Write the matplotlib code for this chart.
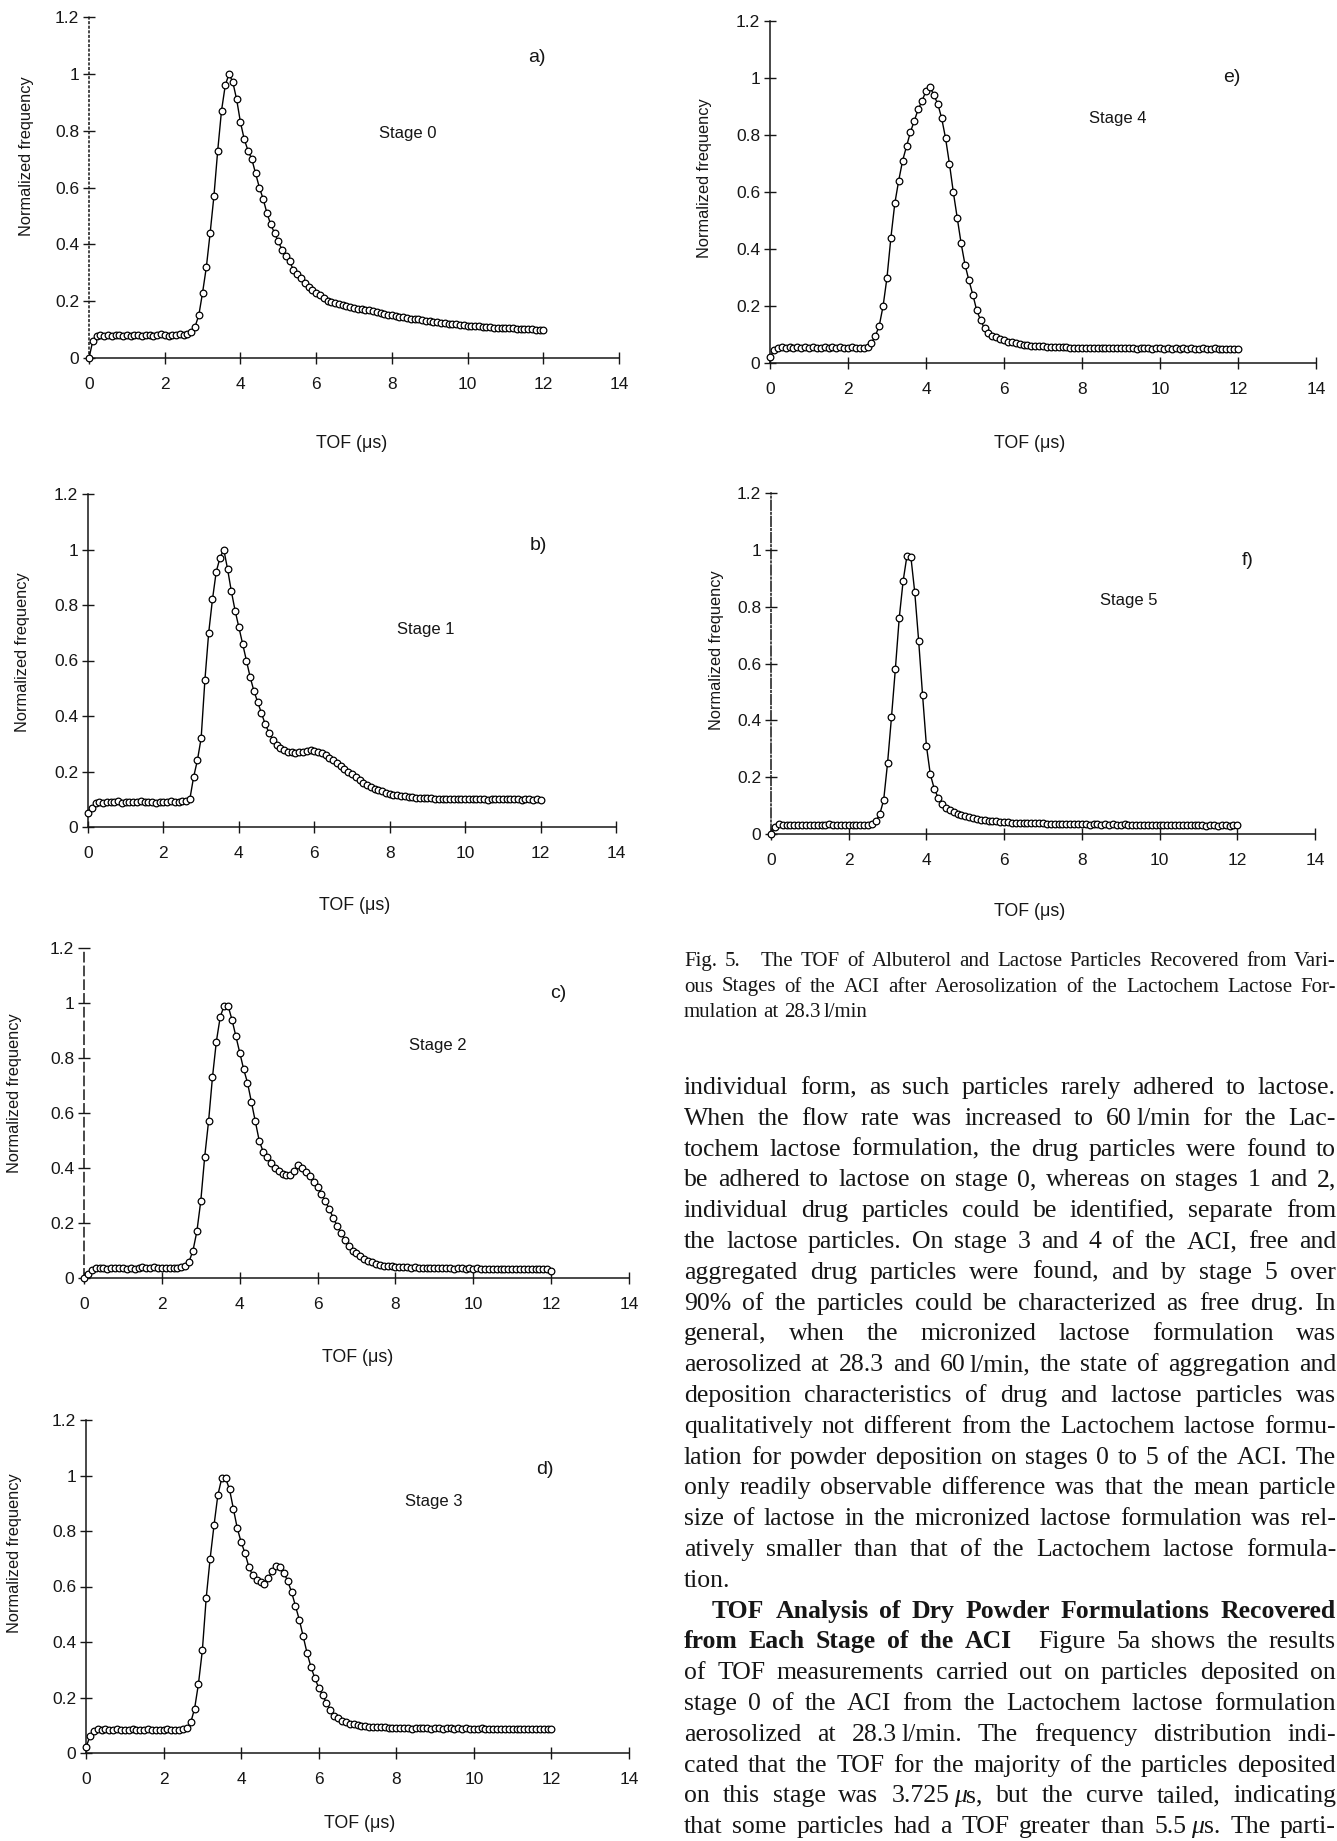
import numpy as np
import matplotlib
matplotlib.use("Agg")
import matplotlib.pyplot as plt

plt.rcParams['font.family'] = ['Liberation Sans', 'DejaVu Sans']

# Данные: нормированная частота по времени пролёта (шаг 0.1 мкс, 0..12)
tof = np.round(np.arange(0, 12.05, 0.1), 1)

stage0 = [0.0, 0.06, 0.078, 0.080, 0.079, 0.081, 0.078, 0.080, 0.082, 0.079,
          0.080, 0.078, 0.081, 0.080, 0.079, 0.082, 0.080, 0.078, 0.081, 0.083,
          0.080, 0.079, 0.082, 0.081, 0.083, 0.082, 0.084, 0.090, 0.11, 0.15,
          0.23, 0.32, 0.44, 0.57, 0.73, 0.87, 0.96, 1.0, 0.97, 0.91,
          0.83, 0.77, 0.73, 0.70, 0.65, 0.60, 0.56, 0.51, 0.47, 0.44,
          0.41, 0.38, 0.36, 0.34, 0.31, 0.295, 0.28, 0.265, 0.25, 0.24,
          0.23, 0.22, 0.21, 0.20, 0.197, 0.193, 0.19, 0.186, 0.182, 0.178,
          0.175, 0.174, 0.172, 0.170, 0.168, 0.165, 0.162, 0.158, 0.155, 0.153,
          0.150, 0.148, 0.146, 0.144, 0.141, 0.139, 0.137, 0.136, 0.134, 0.131,
          0.129, 0.127, 0.125, 0.124, 0.122, 0.121, 0.120, 0.118, 0.117, 0.116,
          0.114, 0.113, 0.112, 0.111, 0.110, 0.109, 0.108, 0.107, 0.106, 0.106,
          0.105, 0.104, 0.104, 0.103, 0.102, 0.102, 0.101, 0.101, 0.100, 0.100,
          0.100]

stage1 = [0.05, 0.07, 0.085, 0.09, 0.088, 0.091, 0.089, 0.09, 0.092, 0.088,
          0.09, 0.091, 0.089, 0.09, 0.092, 0.089, 0.09, 0.091, 0.088, 0.09,
          0.091, 0.089, 0.092, 0.09, 0.091, 0.093, 0.095, 0.10, 0.18, 0.24,
          0.32, 0.53, 0.70, 0.82, 0.92, 0.97, 1.0, 0.93, 0.85, 0.78,
          0.72, 0.66, 0.60, 0.54, 0.49, 0.45, 0.41, 0.37, 0.34, 0.315,
          0.295, 0.285, 0.278, 0.272, 0.27, 0.268, 0.27, 0.272, 0.275, 0.276,
          0.274, 0.27, 0.266, 0.26, 0.25, 0.24, 0.23, 0.22, 0.21, 0.20,
          0.19, 0.18, 0.17, 0.16, 0.15, 0.145, 0.138, 0.133, 0.128, 0.124,
          0.12, 0.117, 0.114, 0.112, 0.11, 0.108, 0.107, 0.106, 0.105, 0.104,
          0.103, 0.103, 0.102, 0.102, 0.101, 0.102, 0.101, 0.1, 0.101, 0.1,
          0.101, 0.1, 0.102, 0.1, 0.101, 0.1, 0.099, 0.1, 0.101, 0.1,
          0.1, 0.101, 0.1, 0.102, 0.1, 0.099, 0.1, 0.1, 0.099, 0.1,
          0.098]

stage2 = [0.0, 0.015, 0.03, 0.036, 0.035, 0.037, 0.034, 0.036, 0.038, 0.035,
          0.036, 0.034, 0.035, 0.033, 0.036, 0.04, 0.038, 0.037, 0.039, 0.036,
          0.035, 0.037, 0.036, 0.038, 0.037, 0.04, 0.042, 0.06, 0.10, 0.17,
          0.28, 0.44, 0.57, 0.73, 0.86, 0.95, 0.99, 0.99, 0.94, 0.88,
          0.82, 0.76, 0.71, 0.64, 0.57, 0.50, 0.46, 0.44, 0.42, 0.40,
          0.39, 0.38, 0.375, 0.375, 0.39, 0.41, 0.40, 0.385, 0.37, 0.35,
          0.33, 0.305, 0.28, 0.25, 0.22, 0.19, 0.165, 0.14, 0.118, 0.10,
          0.09, 0.08, 0.07, 0.063, 0.057, 0.052, 0.048, 0.045, 0.043, 0.042,
          0.04, 0.04, 0.039, 0.04, 0.038, 0.039, 0.037, 0.038, 0.037, 0.036,
          0.037, 0.036, 0.035, 0.036, 0.035, 0.034, 0.035, 0.036, 0.034, 0.035,
          0.034, 0.035, 0.033, 0.034, 0.033, 0.034, 0.032, 0.033, 0.034, 0.032,
          0.033, 0.032, 0.034, 0.031, 0.033, 0.032, 0.031, 0.033, 0.032, 0.031,
          0.025]

stage3 = [0.02, 0.06, 0.08, 0.085, 0.083, 0.086, 0.082, 0.084, 0.085, 0.083,
          0.084, 0.082, 0.085, 0.083, 0.084, 0.082, 0.085, 0.083, 0.084, 0.082,
          0.083, 0.085, 0.082, 0.084, 0.083, 0.086, 0.09, 0.11, 0.16, 0.25,
          0.37, 0.56, 0.70, 0.82, 0.93, 0.99, 0.99, 0.95, 0.88, 0.81,
          0.76, 0.72, 0.67, 0.64, 0.625, 0.615, 0.61, 0.63, 0.655, 0.675,
          0.67, 0.65, 0.62, 0.58, 0.53, 0.48, 0.42, 0.36, 0.31, 0.27,
          0.235, 0.21, 0.18, 0.155, 0.135, 0.125, 0.115, 0.11, 0.106, 0.103,
          0.1, 0.098, 0.096, 0.095, 0.094, 0.093, 0.092, 0.092, 0.091, 0.091,
          0.09, 0.089, 0.091, 0.09, 0.088, 0.09, 0.091, 0.089, 0.09, 0.088,
          0.089, 0.09, 0.088, 0.09, 0.089, 0.087, 0.089, 0.088, 0.09, 0.087,
          0.088, 0.087, 0.089, 0.086, 0.088, 0.087, 0.086, 0.088, 0.087, 0.086,
          0.087, 0.086, 0.088, 0.086, 0.087, 0.085, 0.087, 0.086, 0.088, 0.086,
          0.087]

stage4 = [0.02, 0.045, 0.052, 0.055, 0.054, 0.056, 0.053, 0.055, 0.054, 0.056,
          0.053, 0.055, 0.054, 0.052, 0.055, 0.054, 0.056, 0.053, 0.055, 0.054,
          0.053, 0.055, 0.052, 0.054, 0.053, 0.056, 0.07, 0.095, 0.13, 0.20,
          0.30, 0.44, 0.56, 0.64, 0.71, 0.76, 0.81, 0.85, 0.89, 0.92,
          0.955, 0.97, 0.94, 0.91, 0.86, 0.79, 0.70, 0.60, 0.51, 0.42,
          0.345, 0.29, 0.24, 0.185, 0.15, 0.122, 0.105, 0.096, 0.09, 0.084,
          0.079, 0.075, 0.072, 0.069, 0.066, 0.064, 0.062, 0.061, 0.06, 0.059,
          0.058, 0.057, 0.057, 0.056, 0.056, 0.055, 0.055, 0.054, 0.054, 0.054,
          0.053, 0.054, 0.052, 0.053, 0.054, 0.052, 0.053, 0.051, 0.053, 0.052,
          0.052, 0.051, 0.053, 0.052, 0.05, 0.052, 0.051, 0.052, 0.05, 0.051,
          0.051, 0.05, 0.052, 0.05, 0.051, 0.049, 0.051, 0.05, 0.052, 0.05,
          0.05, 0.051, 0.049, 0.05, 0.051, 0.049, 0.05, 0.048, 0.05, 0.049,
          0.048]

stage5 = [0.0, 0.025, 0.035, 0.032, 0.033, 0.031, 0.032, 0.033, 0.031, 0.032,
          0.033, 0.032, 0.031, 0.033, 0.032, 0.034, 0.031, 0.032, 0.033, 0.031,
          0.032, 0.033, 0.031, 0.032, 0.033, 0.032, 0.036, 0.045, 0.07, 0.12,
          0.25, 0.41, 0.58, 0.76, 0.89, 0.98, 0.975, 0.85, 0.68, 0.49,
          0.31, 0.21, 0.16, 0.128, 0.105, 0.093, 0.085, 0.078, 0.072, 0.067,
          0.063, 0.06, 0.056, 0.053, 0.051, 0.049, 0.047, 0.045, 0.044, 0.043,
          0.042, 0.041, 0.04, 0.04, 0.039, 0.039, 0.038, 0.038, 0.038, 0.037,
          0.037, 0.036, 0.036, 0.035, 0.036, 0.035, 0.035, 0.034, 0.035, 0.034,
          0.035, 0.034, 0.033, 0.035, 0.034, 0.033, 0.034, 0.033, 0.034, 0.032,
          0.033, 0.034, 0.032, 0.033, 0.032, 0.033, 0.031, 0.033, 0.032, 0.031,
          0.032, 0.031, 0.033, 0.032, 0.03, 0.032, 0.031, 0.03, 0.032, 0.031,
          0.03, 0.031, 0.029, 0.031, 0.03, 0.029, 0.031, 0.03, 0.029, 0.03,
          0.03]

x_ticks = [0, 2, 4, 6, 8, 10, 12, 14]
x_tick_labels = ['0', '2', '4', '6', '8', '10', '12', '14']
y_ticks = [0, 0.2, 0.4, 0.6, 0.8, 1.0, 1.2]
y_tick_labels = ['0', '0.2', '0.4', '0.6', '0.8', '1', '1.2']

letters = ['a)', 'b)', 'c)', 'd)', 'e)', 'f)']
stages = ['Stage 0', 'Stage 1', 'Stage 2', 'Stage 3', 'Stage 4', 'Stage 5']
series = [stage0, stage1, stage2, stage3, stage4, stage5]

caption_lines = [
    "Fig. 5. ~ The TOF of Albuterol and Lactose Particles Recovered from Vari-",
    "ous Stages of the ACI after Aerosolization of the Lactochem Lactose For-",
    "mulation at 28.3_l/min",
]

body_lines = [
    "individual form, as such particles rarely adhered to lactose.",
    "When the flow rate was increased to 60_l/min for the Lac-",
    "tochem lactose formulation, the drug particles were found to",
    "be adhered to lactose on stage 0, whereas on stages 1 and 2,",
    "individual drug particles could be identified, separate from",
    "the lactose particles. On stage 3 and 4 of the ACI, free and",
    "aggregated drug particles were found, and by stage 5 over",
    "90% of the particles could be characterized as free drug. In",
    "general, when the micronized lactose formulation was",
    "aerosolized at 28.3 and 60_l/min, the state of aggregation and",
    "deposition characteristics of drug and lactose particles was",
    "qualitatively not different from the Lactochem lactose formu-",
    "lation for powder deposition on stages 0 to 5 of the ACI. The",
    "only readily observable difference was that the mean particle",
    "size of lactose in the micronized lactose formulation was rel-",
    "atively smaller than that of the Lactochem lactose formula-",
    "tion.",
    "*TOF *Analysis *of *Dry *Powder *Formulations *Recovered",
    "*from *Each *Stage *of *the *ACI ~ Figure 5a shows the results",
    "of TOF measurements carried out on particles deposited on",
    "stage 0 of the ACI from the Lactochem lactose formulation",
    "aerosolized at 28.3_l/min. The frequency distribution indi-",
    "cated that the TOF for the majority of the particles deposited",
    "on this stage was 3.725_μs, but the curve tailed, indicating",
    "that some particles had a TOF greater than 5.5_μs. The parti-",
]

# Размещение (в пикселях страницы)
W, H = 1337, 1841
boxes = [(89, 619, 17, 358), (88, 616, 494, 827), (84, 629, 948, 1278),
         (86, 629, 1420, 1753), (770, 1316, 21, 363), (771, 1315, 493, 834)]
letter_pos = [(11.83, 1.056), (11.93, 1.016), (12.18, 1.036),
              (11.83, 1.02), (11.85, 1.0), (12.28, 0.964)]
stage_pos = [(8.43, 0.79), (8.96, 0.71), (9.09, 0.847),
             (8.97, 0.905), (8.92, 0.857), (9.21, 0.823)]
ylab_pos = [(27, 156), (23, 652), (15, 1093), (15, 1553), (705, 178), (716, 650)]
xlab_pos = [(352, 443), (355, 905), (358, 1357), (360, 1823), (1030, 443), (1030, 912)]
left_spine = [(0, (1, 2)), '-', (0, (6, 3)), '-', '-', '-.']

ink = '#161616'

fig = plt.figure(figsize=(W / 100, H / 100), dpi=100)
fig.patch.set_facecolor('white')


def fx(x):
    return x / W


def fy(y):
    return 1 - y / H


for i in range(6):
    L, R, T, B = boxes[i]
    ax = fig.add_axes([fx(L), fy(B), (R - L) / W, (B - T) / H])
    ax.plot(tof, series[i], color='black', lw=1.0, marker='o', ms=4.8,
            mfc='white', mec='black', mew=0.9, clip_on=False, zorder=3)
    ax.set_xlim(0, 14)
    ax.set_ylim(0, 1.2)
    ax.spines['top'].set_visible(False)
    ax.spines['right'].set_visible(False)
    for s in ['left', 'bottom']:
        ax.spines[s].set_linewidth(1.1)
        ax.spines[s].set_color(ink)
    ax.spines['left'].set_linestyle(left_spine[i])
    ax.set_xticks(x_ticks)
    ax.set_xticklabels(x_tick_labels)
    ax.set_yticks(y_ticks)
    ax.set_yticklabels(y_tick_labels)
    ax.tick_params(direction='inout', length=8, width=1, colors=ink, labelsize=12.5)
    ax.tick_params(axis='x', pad=10)
    ax.tick_params(axis='y', pad=3)
    ax.patch.set_alpha(0)
    ax.text(*letter_pos[i], letters[i], fontsize=14, ha='center', va='center', color=ink)
    ax.text(*stage_pos[i], stages[i], fontsize=12, ha='center', va='center', color=ink)
    fig.text(fx(ylab_pos[i][0]), fy(ylab_pos[i][1]), 'Normalized frequency',
             rotation=90, fontsize=11.8, ha='center', va='center', color=ink)
    fig.text(fx(xlab_pos[i][0]), fy(xlab_pos[i][1]), 'TOF (μs)',
             fontsize=12.8, ha='center', va='center', color=ink)

# Текст подписи и абзацев с выравниванием по ширине
renderer = fig.canvas.get_renderer()
serif = ['Liberation Serif', 'DejaVu Serif']


def width_of(s, size, weight, style):
    t = fig.text(0, 0, s, fontsize=size, family=serif, weight=weight, style=style)
    w = t.get_window_extent(renderer).width
    t.remove()
    return w


def parse_word(word, size):
    bold = word.startswith('*')
    if bold:
        word = word[1:]
    weight = 'bold' if bold else 'normal'
    em = size * 100 / 72
    segs = []
    for k, part in enumerate(word.split('_')):
        if k > 0:
            segs.append((None, 0.17 * em, weight, 'normal'))
        pieces = []
        if 'μ' in part:
            j = part.index('μ')
            if part[:j]:
                pieces.append((part[:j], 'normal'))
            pieces.append(('μ', 'italic'))
            if part[j + 1:]:
                pieces.append((part[j + 1:], 'normal'))
        else:
            pieces.append((part, 'normal'))
        for txt, st in pieces:
            segs.append((txt, width_of(txt, size, weight, st), weight, st))
    return segs


def layout(line, size):
    em = size * 100 / 72
    words = []
    extra = 0
    for tok in line.split(' '):
        if tok == '~':
            extra += 0.6 * em
            words.append(None)
            continue
        words.append(parse_word(tok, size))
    real = [w for w in words if w is not None]
    total = sum(sum(s[1] for s in w) for w in real) + extra
    return words, total, len(real) - 1


def draw_line(line, x0, x1, y, size, justify):
    words, total, ngap = layout(line, size)
    # если строка не помещается, немного уменьшаем кегль
    while justify and ngap > 0 and (x1 - x0 - total) / ngap < 0.14 * size * 100 / 72:
        size -= 0.2
        words, total, ngap = layout(line, size)
    em = size * 100 / 72
    if justify and ngap > 0:
        gap = (x1 - x0 - total) / ngap
    else:
        gap = 0.25 * em
    x = x0
    first = True
    for w in words:
        if w is None:
            x += 0.6 * em
            continue
        if not first:
            x += gap
        first = False
        for txt, wd, weight, st in w:
            if txt is not None:
                fig.text(fx(x), fy(y), txt, fontsize=size, family=serif,
                         weight=weight, style=st, ha='left', va='baseline', color=ink)
            x += wd


cap_size = 15.0
for k, line in enumerate(caption_lines):
    draw_line(line, 684, 1336, 966 + k * 25.5, cap_size, k < 2)

body_size = 18.5
for k, line in enumerate(body_lines):
    x_start = 684
    if line.startswith('*TOF'):
        x_start = 712
    draw_line(line, x_start, 1336, 1094 + k * 30.8, body_size, k != 16)

plt.savefig('out.png', dpi=100, facecolor='white')
